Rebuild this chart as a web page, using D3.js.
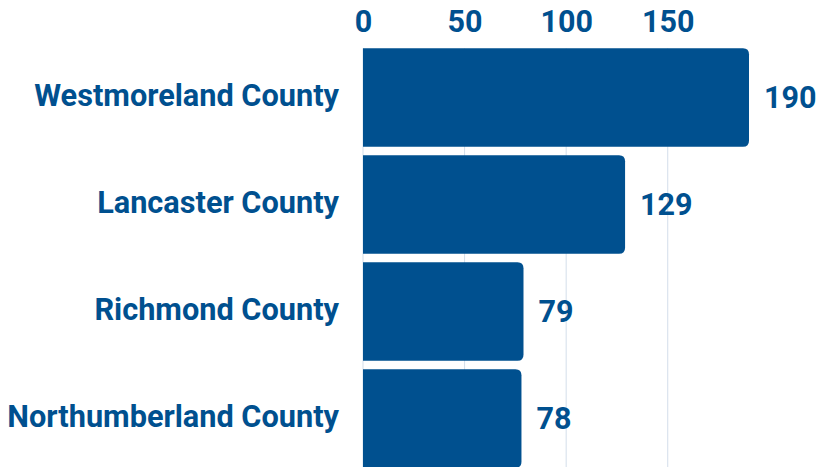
<!DOCTYPE html>
<html>
<head>
<meta charset="utf-8">
<script src="https://cdn.jsdelivr.net/npm/d3@7"></script>
<style>
  html, body { margin: 0; padding: 0; background: #fff; }
  svg text { font-family: Roboto, sans-serif; font-weight: 700; fill: #00508f; }
</style>
</head>
<body>
<svg id="chart" width="817" height="467"></svg>
<script>
const counties = ['Westmoreland County', 'Lancaster County', 'Richmond County', 'Northumberland County']
const counts = [190, 129, 79, 78]
const ticks = [0, 50, 100, 150]

const color = '#00508f'
const svg = d3.select('#chart')

const x = d3.scaleLinear().domain([0, 190]).range([363, 749])
const y = d3.scaleBand()
  .domain(counties)
  .range([44, 472])
  .paddingInner(0.08)
  .paddingOuter(0.04)

const data = counties.map((c, i) => ({ county: c, count: counts[i] }))

// grid lines
svg.append('g')
  .selectAll('line')
  .data(ticks)
  .enter()
  .append('line')
  .attr('x1', d => x(d))
  .attr('x2', d => x(d))
  .attr('y1', y(counties[0]))
  .attr('y2', 467)
  .attr('stroke', '#d3deea')
  .attr('stroke-width', 1)

// top axis labels
const axis = svg.append('g')
  .attr('transform', 'translate(0,32)')
  .call(d3.axisTop(x).tickValues(ticks).tickSize(0).tickPadding(0))
axis.select('.domain').remove()
axis.selectAll('text')
  .attr('font-size', 30.5)
  .attr('dy', 0)
  .style('font-family', 'Roboto, sans-serif')
  .style('font-weight', 700)
  .style('fill', color)

// bars with rounded right end
const r = 6
function barPath(d) {
  const x0 = x(0), x1 = x(d.count)
  const y0 = y(d.county), h = y.bandwidth()
  return 'M' + x0 + ',' + y0 +
    'H' + (x1 - r) +
    'Q' + x1 + ',' + y0 + ' ' + x1 + ',' + (y0 + r) +
    'V' + (y0 + h - r) +
    'Q' + x1 + ',' + (y0 + h) + ' ' + (x1 - r) + ',' + (y0 + h) +
    'H' + x0 + 'Z'
}

svg.append('g')
  .selectAll('path')
  .data(data)
  .enter()
  .append('path')
  .attr('d', barPath)
  .attr('fill', color)

// value labels
svg.append('g')
  .selectAll('text')
  .data(data)
  .enter()
  .append('text')
  .attr('x', d => x(d.count) + 15)
  .attr('y', d => y(d.county) + y.bandwidth() / 2)
  .attr('dy', '0.36em')
  .attr('font-size', 30.5)
  .text(d => d.count)

// category labels
svg.append('g')
  .selectAll('text')
  .data(data)
  .enter()
  .append('text')
  .attr('x', 339)
  .attr('y', d => y(d.county) + y.bandwidth() / 2 - 3)
  .attr('dy', '0.36em')
  .attr('text-anchor', 'end')
  .attr('font-size', 30.7)
  .text(d => d.county)
</script>
</body>
</html>
